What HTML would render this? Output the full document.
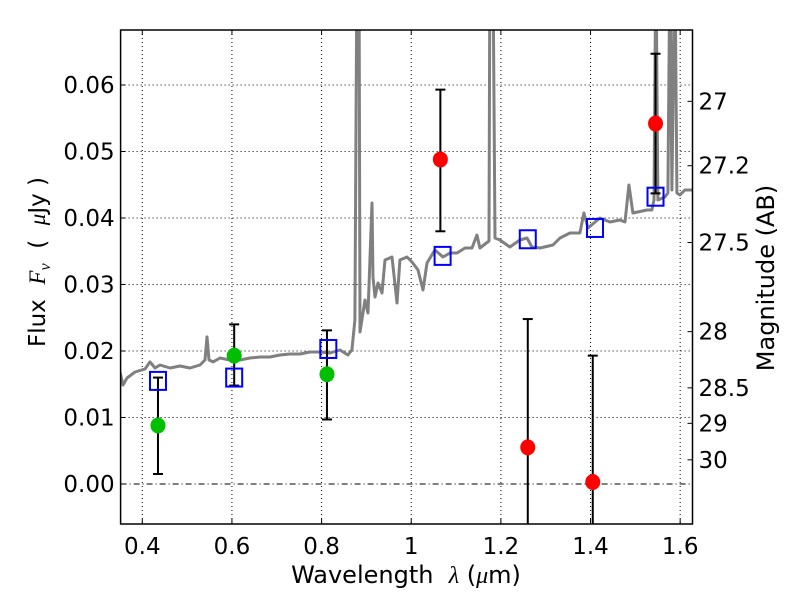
<!DOCTYPE html>
<html><head><meta charset="utf-8"><style>
html,body{margin:0;padding:0;background:#fff;}
svg{display:block;font-family:"DejaVu Sans","Liberation Sans",sans-serif;}
</style></head><body>
<svg id="chart" width="800" height="600" viewBox="0 0 800 600" xml:space="preserve">
<rect x="0" y="0" width="800" height="600" fill="#fff"/>
<defs><clipPath id="pc"><rect x="120.6" y="30" width="571.9" height="494"/></clipPath></defs>
<g id="grid"></g>
<g id="marks" clip-path="url(#pc)"></g>
<rect x="120.6" y="30" width="571.9" height="494" fill="none" stroke="#000" stroke-width="1.5"/>
<g id="axes"></g>
<text x="406" y="583" text-anchor="middle" font-size="24" style="white-space:pre">Wavelength  <tspan font-style="italic" font-family="Liberation Serif, serif">λ</tspan> (<tspan font-style="italic" font-family="Liberation Serif, serif">μ</tspan>m)</text>
<text transform="translate(45,262) rotate(-90)" text-anchor="middle" font-size="23" style="white-space:pre">Flux  <tspan font-style="italic" font-family="Liberation Serif, serif">F<tspan font-size="16" dy="5">ν</tspan></tspan><tspan dy="-5">  (  </tspan><tspan font-style="italic" font-family="Liberation Serif, serif">μ</tspan>Jy )</text>
<text transform="translate(774,278) rotate(-90)" text-anchor="middle" font-size="24">Magnitude (AB)</text>
</svg>
<script>
const specWave=[0.3503,0.3569,0.3658,0.3837,0.4060,0.4172,0.4283,0.4395,0.4618,0.4841,0.5064,0.5287,0.5399,0.5443,0.5488,0.5577,0.5733,0.5956,0.6179,0.6402,0.6625,0.6848,0.7071,0.7294,0.7518,0.7741,0.7964,0.8187,0.8410,0.8588,0.8677,0.8744,0.8789,0.8834,0.8856,0.8968,0.9035,0.9124,0.9146,0.9191,0.9258,0.9347,0.9414,0.9570,0.9682,0.9748,0.9905,1.0016,1.0150,1.0262,1.0351,1.0529,1.0708,1.0864,1.1020,1.1199,1.1355,1.1466,1.1533,1.1734,1.1756,1.1823,1.1868,1.1979,1.2202,1.2425,1.2582,1.2693,1.2872,1.3162,1.3318,1.3541,1.3764,1.3853,1.3943,1.4210,1.4433,1.4656,1.4768,1.4857,1.4946,1.5259,1.5370,1.5415,1.5459,1.5504,1.5660,1.5727,1.5772,1.5816,1.5883,1.5928,1.5995,1.6106,1.6285];
const specFlux=[0.01684,0.01489,0.01594,0.01684,0.01729,0.01835,0.01744,0.01789,0.01744,0.01774,0.01744,0.01789,0.01865,0.02211,0.01865,0.01835,0.01895,0.01865,0.01865,0.01895,0.01910,0.01910,0.01940,0.01955,0.01955,0.01985,0.01985,0.01970,0.02015,0.01940,0.02015,0.02466,0.08,0.08,0.02286,0.02767,0.02571,0.04226,0.03113,0.02812,0.03023,0.02872,0.03368,0.03414,0.02722,0.03368,0.03414,0.03338,0.03218,0.02917,0.03323,0.03519,0.03414,0.03474,0.03474,0.03549,0.03549,0.03744,0.03549,0.03654,0.08,0.08,0.03699,0.03669,0.03564,0.03669,0.03699,0.03564,0.03549,0.03594,0.03699,0.03774,0.03774,0.04075,0.03850,0.04000,0.03940,0.03970,0.03940,0.04496,0.04075,0.04120,0.04120,0.04271,0.08,0.04271,0.04316,0.04376,0.08,0.04421,0.08,0.04376,0.04346,0.04421,0.04421];
const greenWave=[0.435,0.605,0.812];
const greenFlux=[0.0088,0.0193,0.0165];
const greenLo=[0.0015,0.0148,0.0097];
const greenHi=[0.0160,0.0240,0.0231];
const redWave=[1.065,1.26,1.405,1.545];
const redFlux=[0.0488,0.0055,0.0003,0.0542];
const redLo=[0.0380,-0.02,-0.02,0.0437];
const redHi=[0.0593,0.0248,0.0193,0.0647];
const modelWave=[0.435,0.605,0.815,1.07,1.26,1.41,1.545];
const modelFlux=[0.0155,0.0160,0.0203,0.0343,0.0368,0.0385,0.0432];
const xTicks=[0.4,0.6,0.8,1.0,1.2,1.4,1.6];
const xTickLabels=["0.4","0.6","0.8","1","1.2","1.4","1.6"];
const yTicks=[0,0.01,0.02,0.03,0.04,0.05,0.06];
const yTickLabels=["0.00","0.01","0.02","0.03","0.04","0.05","0.06"];
const magTicks=[27,27.2,27.5,28,28.5,29,30];
const magTickLabels=["27","27.2","27.5","28","28.5","29","30"];

const NS="http://www.w3.org/2000/svg";
const L=120.6,R=692.5,T=30,B=524;
const X0=0.3516,X1=1.6275,Y0=-0.00602,Y1=0.06827;
function xs(v){return L+(v-X0)/(X1-X0)*(R-L);}
function ys(v){return B-(v-Y0)/(Y1-Y0)*(B-T);}
function magToFlux(m){return Math.pow(10,(23.9-m)/2.5);}
function mk(tag,attrs,parent){const e=document.createElementNS(NS,tag);for(const k in attrs)e.setAttribute(k,attrs[k]);parent.appendChild(e);return e;}
const grid=document.getElementById('grid'),marks=document.getElementById('marks'),axes=document.getElementById('axes');

xTicks.forEach((t,i)=>{
  const g=mk('line',{x1:xs(t),x2:xs(t),y1:T,y2:B,stroke:'#000','stroke-width':1,'stroke-dasharray':'1,3'},grid);
  
  
  const a=mk('line',{x1:xs(t),x2:xs(t),y1:B,y2:B-5,stroke:'#000','stroke-width':1},axes);
  
  
  const b=mk('line',{x1:xs(t),x2:xs(t),y1:T,y2:T+5,stroke:'#000','stroke-width':1},axes);
  
  
  const tx=mk('text',{x:xs(t),y:B+30,'text-anchor':'middle','font-size':23},axes);
  tx.textContent=xTickLabels[i];
  
  
});
yTicks.forEach((t,i)=>{
  const g=mk('line',{x1:L,x2:R,y1:ys(t),y2:ys(t),stroke:'#000','stroke-width':1,'stroke-dasharray':t===0?'6,3,1,3':'1,3'},grid);
  
  
  const a=mk('line',{x1:L,x2:L+5,y1:ys(t),y2:ys(t),stroke:'#000','stroke-width':1},axes);
  
  
  const tx=mk('text',{x:L-6,y:ys(t)+8,'text-anchor':'end','font-size':23},axes);
  tx.textContent=yTickLabels[i];
  
  
});
magTicks.forEach((m,i)=>{
  const y=ys(magToFlux(m));
  const a=mk('line',{x1:R,x2:R-5,y1:y,y2:y,stroke:'#000','stroke-width':1},axes);
  
  
  const tx=mk('text',{x:R+6,y:y+8,'font-size':23},axes);
  tx.textContent=magTickLabels[i];
  
  
});

const pts=specWave.map((w,i)=>xs(w).toFixed(1)+','+ys(specFlux[i]).toFixed(1)).join(' ');
const sp=mk('polyline',{points:pts,fill:'none',stroke:'#808080','stroke-width':3,'stroke-linejoin':'round'},marks);



function errbar(w,lo,hi){
  const x=xs(w);
  const l=mk('line',{x1:x,x2:x,y1:ys(lo),y2:ys(hi),stroke:'#000','stroke-width':2},marks);
  
  
  [lo,hi].forEach(v=>{const c=mk('line',{x1:x-5,x2:x+5,y1:ys(v),y2:ys(v),stroke:'#000','stroke-width':2},marks);
    
    });
}
greenWave.forEach((w,i)=>errbar(w,greenLo[i],greenHi[i]));
redWave.forEach((w,i)=>errbar(w,redLo[i],redHi[i]));
modelWave.forEach((w,i)=>{
  const s=mk('rect',{x:xs(w)-8,y:ys(modelFlux[i])-9,width:16,height:18,fill:'none',stroke:'#0000ff','stroke-width':2},marks);
  
  
});
greenWave.forEach((w,i)=>{
  const c=mk('ellipse',{cx:xs(w),cy:ys(greenFlux[i]),rx:7.5,ry:8,fill:'#00bf00'},marks);
  
  
});
redWave.forEach((w,i)=>{
  const c=mk('ellipse',{cx:xs(w),cy:ys(redFlux[i]),rx:7.5,ry:8,fill:'#ff0000'},marks);
  
  
});
</script>
</body></html>
